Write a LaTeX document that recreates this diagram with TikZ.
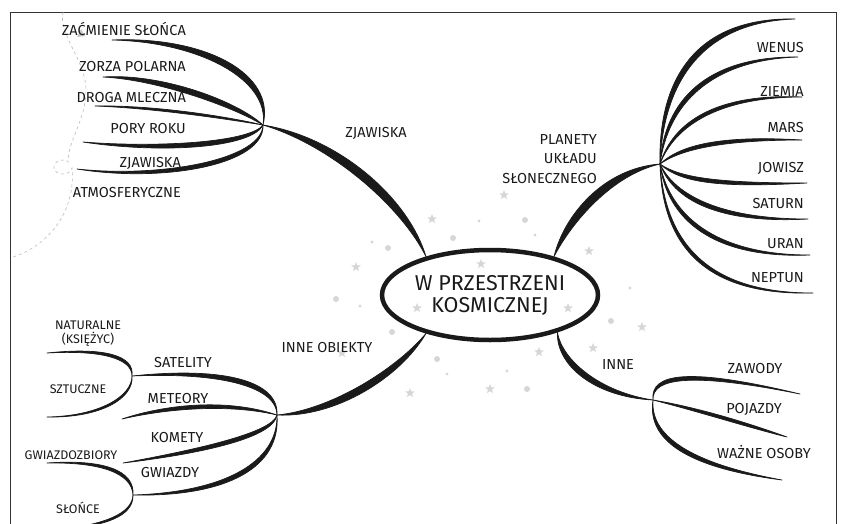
\documentclass[tikz,border=0pt]{standalone}
\usepackage{fontspec}
\setmainfont{Fira Sans}
\usetikzlibrary{calc,shapes.geometric}
\definecolor{ink}{HTML}{1A1A1A}
\definecolor{starc}{HTML}{D6D6D6}
\definecolor{framec}{HTML}{333333}

\tikzset{
	brush/.style={fill=ink, draw=ink, line width=0.7pt, line join=round},
	lbl/.style={font=\fontsize{14.5}{16}\selectfont, text=ink, inner sep=0pt},
	minilbl/.style={font=\fontsize{12.5}{14}\selectfont, text=ink, inner sep=0pt},
	spark/.style={star, star points=5, star point ratio=2.3, fill=starc, minimum size=10pt, inner sep=0pt},
}
% tapered stroke: hub, control 1, control 2, end, thickness offset
\newcommand{\brush}[5]{\fill[brush] (#1) .. controls (#2) and (#3) .. (#4) .. controls ($(#3)+(#5)$) and ($(#2)+(#5)$) .. (#1) -- cycle;}

\begin{document}
\begin{tikzpicture}[x=1pt,y=-1pt]
\useasboundingbox (0,0) rectangle (841,523);

% Frame and dashed trail
\draw[framec, line width=1pt] (10,530) -- (10,12) -- (836,12) -- (836,530);
\draw[gray!55, dashed, line width=0.6pt] (63,12) .. controls (58,35) and (86,60) .. (86,90)
	.. controls (86,120) and (68,140) .. (68,162)
	.. controls (66,158) and (53,160) .. (54,168)
	.. controls (55,176) and (70,176) .. (72,168)
	.. controls (76,210) and (50,245) .. (13,257);
\fill[gray!45] (77,37) -- (81,29) -- (85,36) -- cycle;

% Stars and dots round the centre
\foreach \p in {(504,195),(432,219),(589,251),(481,264),(356,267),(417,308),(568,308),
	(642,327),(593,348),(539,352),(490,389),(410,393),(342,353)}
	\node[spark] at \p {};
\foreach \p in {(525,220),(453,238),(388,248),(336,299),(392,332),(611,321),(437,359),(527,389)}
	\fill[starc] \p circle[radius=3pt];
\foreach \p in {(479,221),(535,235),(372,242),(360,306),(630,288),(447,374),(507,371)}
	\fill[starc] \p circle[radius=1.6pt];

% Central topic
\node[draw=ink, line width=4.5pt, ellipse, minimum width=216pt, minimum height=90pt, inner sep=0pt,
	align=center, font=\fontsize{21.5}{22}\selectfont, text=ink] (core) at (490,295)
	{W PRZESTRZENI\\KOSMICZNEJ};

% Hubs
\coordinate (zjHub) at (263,125);
\coordinate (plHub) at (660,164);
\coordinate (ioHub) at (277,415);
\coordinate (inHub) at (653,400);
\coordinate (satHub) at (132,376);
\coordinate (gwHub) at (133,495);

% Main branches
\brush{core.149}{400,205}{330,145}{zjHub}{8,-8}
\brush{core.31}{572,222}{612,175}{plHub}{-8,-7}
\brush{core.211}{395,370}{330,410}{ioHub}{5,8}
\brush{core.331}{562,360}{600,392}{inHub}{-6,5}

% Zjawiska
\coordinate (zacEnd) at (112,40);
\coordinate (zorEnd) at (103,77);
\coordinate (droEnd) at (95,106);
\coordinate (porEnd) at (83,142);
\coordinate (zjaEnd) at (77,169);
\brush{zjHub}{270,80}{200,42}{zacEnd}{6,-6}
\brush{zjHub}{235,108}{160,80}{zorEnd}{2,-7}
\brush{zjHub}{220,118}{150,108}{droEnd}{0,-3}
\brush{zjHub}{250,142}{160,148}{porEnd}{2,6}
\brush{zjHub}{262,160}{160,178}{zjaEnd}{3,5}

\node[lbl] (zjLbl) at (376,133) {ZJAWISKA};
\node[lbl, anchor=east] (zac) at (186,29) {ZAĆMIENIE SŁOŃCA};
\node[lbl, anchor=east] (zor) at (186,67) {ZORZA POLARNA};
\node[lbl, anchor=east] (dro) at (186,97) {DROGA MLECZNA};
\node[lbl, anchor=east] (por) at (186,128) {PORY ROKU};
\node[lbl, anchor=east] (zja) at (181,163) {ZJAWISKA};
\node[lbl, anchor=east] (atm) at (181,192) {ATMOSFERYCZNE};

% Planety
\coordinate (p1) at (795,19);
\coordinate (p2) at (798,57);
\coordinate (p3) at (802,97);
\coordinate (p4) at (802,140);
\coordinate (p5) at (807,183);
\coordinate (p6) at (808,219);
\coordinate (p7) at (810,255);
\coordinate (p8) at (813,293);
\brush{plHub}{663,85}{700,22}{p1}{-5,-5}
\brush{plHub}{668,105}{710,60}{p2}{-4,-4}
\brush{plHub}{675,125}{720,97}{p3}{-2,-4}
\brush{plHub}{680,150}{720,140}{p4}{0,-5}
\brush{plHub}{680,178}{720,183}{p5}{0,5}
\brush{plHub}{675,195}{720,219}{p6}{-2,5}
\brush{plHub}{670,215}{715,255}{p7}{-3,4}
\brush{plHub}{665,240}{705,293}{p8}{-3,3}

\node[lbl, align=right, anchor=east, font=\fontsize{14.5}{19.5}\selectfont] (plLbl) at (597,159)
	{PLANETY\\UKŁADU\\SŁONECZNEGO};
\node[lbl, anchor=east] (wen) at (804,47) {WENUS};
\node[lbl, anchor=east] (zie) at (804,91) {ZIEMIA};
\node[lbl, anchor=east] (mar) at (804,127) {MARS};
\node[lbl, anchor=east] (jow) at (804,168) {JOWISZ};
\node[lbl, anchor=east] (sat) at (804,203) {SATURN};
\node[lbl, anchor=east] (ura) at (804,244) {URAN};
\node[lbl, anchor=east] (nep) at (804,278) {NEPTUN};

% Inne obiekty
\coordinate (metEnd) at (122,419);
\coordinate (komEnd) at (123,463);
\coordinate (natEnd) at (47,353);
\coordinate (sztEnd) at (47,417);
\coordinate (gwzEnd) at (47,463);
\coordinate (sloEnd) at (70,528);
\brush{ioHub}{277,388}{225,372}{satHub}{2,-6}
\brush{ioHub}{230,404}{170,408}{metEnd}{0,-5}
\brush{ioHub}{272,432}{205,448}{komEnd}{2,5}
\brush{ioHub}{278,462}{225,492}{gwHub}{3,5}
\brush{satHub}{132,358}{100,350}{natEnd}{3,-3}
\brush{satHub}{132,396}{100,416}{sztEnd}{2,2}
\brush{gwHub}{132,473}{100,462}{gwzEnd}{3,-3}
\brush{gwHub}{132,515}{100,524}{sloEnd}{2,2}

\node[lbl] (ioLbl) at (327,347) {INNE OBIEKTY};
\node[lbl] (satl) at (183,362) {SATELITY};
\node[lbl] (met) at (178,398) {METEORY};
\node[lbl] (kom) at (177,437) {KOMETY};
\node[lbl] (gwi) at (170,472) {GWIAZDY};
\node[minilbl, align=center] (nat) at (88,334) {NATURALNE\\(KSIĘŻYC)};
\node[minilbl] (szt) at (78,389) {SZTUCZNE};
\node[minilbl] (gwz) at (71,455) {GWIAZDOZBIORY};
\node[minilbl] (slo) at (78,508) {SŁOŃCE};

% Inne
\coordinate (zawEnd) at (800,394);
\coordinate (pojEnd) at (787,437);
\coordinate (wazEnd) at (782,480);
\brush{inHub}{652,378}{690,372}{zawEnd}{-2,-5}
\brush{inHub}{700,412}{750,428}{pojEnd}{1,-4}
\brush{inHub}{650,440}{700,465}{wazEnd}{-4,4}

\node[lbl] (inLbl) at (618,364) {INNE};
\node[lbl] (zaw) at (755,368) {ZAWODY};
\node[lbl] (poj) at (754,409) {POJAZDY};
\node[lbl] (waz) at (764,452) {WAŻNE OSOBY};
\end{tikzpicture}
\end{document}
